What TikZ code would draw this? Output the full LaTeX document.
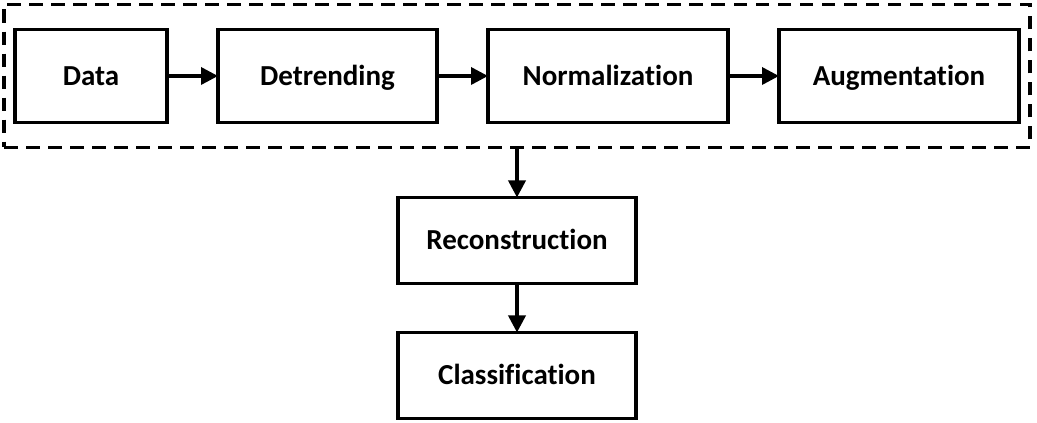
\documentclass[tikz,border=0pt]{standalone}
\usepackage{fontspec}
\setmainfont{Carlito}[Ligatures=NoCommon]
\usetikzlibrary{arrows.meta,positioning,fit}

\begin{document}
\begin{tikzpicture}[->,>={Triangle[length=0.34cm,width=0.34cm]},line width=2pt,
    stage/.style={draw,rectangle,outer sep=0pt,minimum height=1.86cm,
      text height=10.6pt,text depth=0pt,font=\fontsize{16.5}{19}\selectfont\bfseries},
    node distance=1.02cm]
  \useasboundingbox (0,0) rectangle (20.74,8.46);

  \node[stage,minimum width=3.04cm]  (data)    at (1.82,6.94)        {Data};
  \node[stage,minimum width=4.38cm]  (detrend) [right=of data]       {Detrending};
  \node[stage,minimum width=4.8cm]   (norm)    [right=of detrend]    {Normalization};
  \node[stage,minimum width=4.8cm]   (aug)     [right=of norm]       {Augmentation};

  \node[draw,dashed,dash pattern=on 0.27cm off 0.17cm,inner xsep=0.22cm,inner ysep=0.5cm,
        fit=(data)(aug)] (prep) {};

  \node[stage,minimum width=4.76cm,minimum height=1.72cm] (recon) at (10.34,3.65) {Reconstruction};
  \node[stage,minimum width=4.76cm,minimum height=1.72cm] (class) [below=0.98cm of recon] {Classification};

  \path  (data)    edge (detrend)
         (detrend) edge (norm)
         (norm)    edge (aug)
         (recon)   edge (class)
  ;
  \draw  (prep.south -| recon.north) -- (recon.north);
\end{tikzpicture}
\end{document}
